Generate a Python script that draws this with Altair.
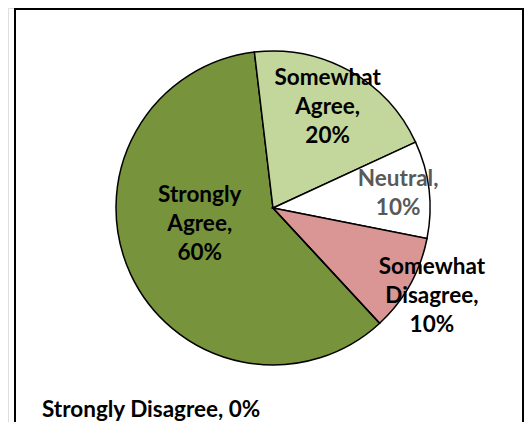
import math
import altair as alt
import pandas as pd

# ---- data ----
categories = ["Strongly Agree", "Somewhat Agree", "Neutral", "Somewhat Disagree", "Strongly Disagree"]
values = [60, 20, 10, 10, 0]
labels = ["Strongly\nAgree,\n60%", "Somewhat\nAgree,\n20%", "Neutral,\n10%",
          "Somewhat\nDisagree,\n10%", "Strongly Disagree, 0%"]
slice_colors = ["#77933C", "#C3D69B", "#FFFFFF", "#D99694", "#FFFFFF"]
text_colors = ["#000000", "#000000", "#595959", "#000000", "#000000"]

# ---- derived table ----
total = sum(values)
t0, t1, acc = [], [], 0.0
for v in values:
    t0.append(acc)
    acc += v * 100.0 / total
    t1.append(acc)
df = pd.DataFrame({
    "category": categories,
    "value": values,
    "label": labels,
    "t0": t0,
    "t1": t1,
    "mid": [(a + b) / 2 for a, b in zip(t0, t1)],
})

# ---- layout ----
W, H = 516, 414
CX, CY = 265, 200
R = 157
START = math.radians(137.2)
theta_scale = alt.Scale(domain=[0, 100], range=[START, START + 2 * math.pi])
FONT = "Lato"
FS = 22.5
LH = 29

base = alt.Chart(df)

arcs = base.mark_arc(outerRadius=R, stroke="#000000", strokeWidth=1.5).encode(
    theta=alt.Theta("t0:Q", scale=theta_scale),
    theta2="t1:Q",
    x=alt.value(CX),
    y=alt.value(CY),
    color=alt.Color("category:N", scale=alt.Scale(domain=categories, range=slice_colors), legend=None),
)

# label placement: (radius, dx, dy, align)
label_place = {
    "Strongly Agree": (73, -7, -15, "center"),
    "Somewhat Agree": (114, -1, -1, "center"),
    "Neutral": (126, 0, 0, "center"),
    "Somewhat Disagree": (182, 0, -1, "center"),
    "Strongly Disagree": (0, -231, 202, "left"),
}

text_layers = []
for cat, tc, lab in zip(categories, text_colors, labels):
    r, dx, dy, al = label_place[cat]
    n_lines = lab.count("\n") + 1
    dy_block = dy - (n_lines - 1) * LH / 2.0
    t = base.transform_filter(alt.datum.category == cat).mark_text(
        radius=r, dx=dx, dy=dy_block, align=al, baseline="middle",
        font=FONT, fontSize=FS, fontWeight="bold", lineHeight=LH,
        lineBreak="\n", color=tc,
    ).encode(
        theta=alt.Theta("mid:Q", scale=theta_scale, stack=None),
        x=alt.value(CX),
        y=alt.value(CY),
        text="label:N",
    )
    text_layers.append(t)

frame_df = pd.DataFrame({"k": [0]})
fr = alt.Chart(frame_df)
left = fr.mark_rule(color="#000000", strokeWidth=2).encode(x=alt.value(7), y=alt.value(0), y2=alt.value(H))
top = fr.mark_rule(color="#000000", strokeWidth=2).encode(x=alt.value(6), x2=alt.value(516), y=alt.value(1))
right = fr.mark_rule(color="#000000", strokeWidth=2).encode(x=alt.value(515), y=alt.value(0), y2=alt.value(H))

chart = alt.layer(arcs, *text_layers, left, top, right).properties(
    width=W, height=H, padding=0,
    autosize=alt.AutoSizeParams(type="none"),
).configure_view(stroke=None).configure(background="#FFFFFF")

chart.save("out.html", embed_options={"renderer": "svg", "actions": False})
